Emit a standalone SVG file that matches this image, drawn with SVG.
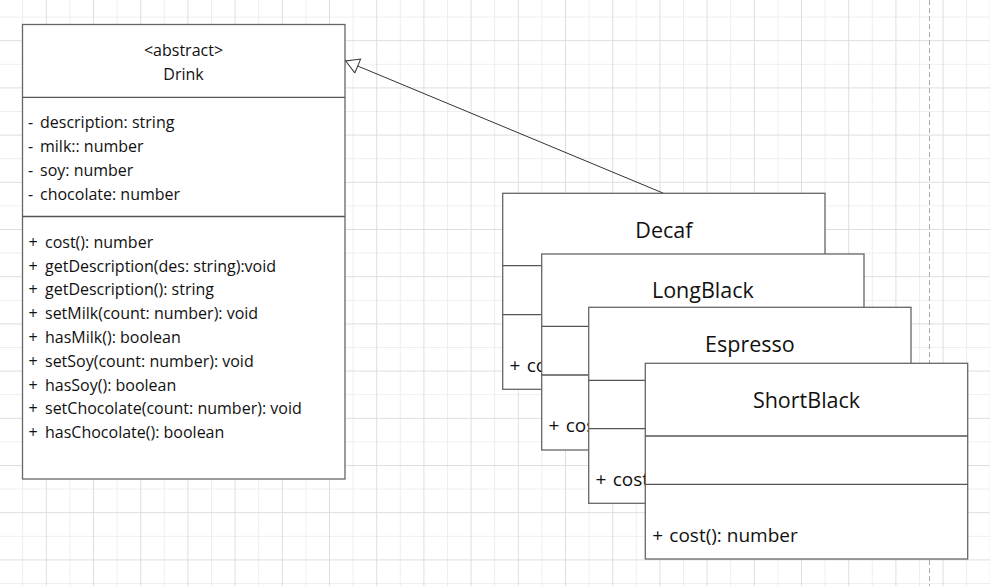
<svg xmlns="http://www.w3.org/2000/svg" width="990" height="586" viewBox="0 0 990 586">
<defs>
<pattern id="grid" patternUnits="userSpaceOnUse" x="45.8" y="40.2" width="47.2" height="47.2">
<rect x="23.6" y="0" width="1" height="47.2" fill="#eeeeee"/>
<rect x="0" y="23.6" width="47.2" height="1" fill="#eeeeee"/>
<rect x="0" y="0" width="1" height="47.2" fill="#dedede"/>
<rect x="0" y="0" width="47.2" height="1" fill="#dedede"/>
</pattern>
<marker id="inherit" markerUnits="userSpaceOnUse" markerWidth="20" markerHeight="20" refX="14" refY="8" orient="auto" viewBox="0 0 20 20">
<path d="M1,0.5 L14,8 L1,15.5 Z" fill="#ffffff" stroke="#333333" stroke-width="1"/>
</marker>
</defs>
<style>
.box{fill:#ffffff;stroke:#666666;stroke-width:1.3}
.div{stroke:#555555;stroke-width:1.3}
.t{font-family:"Open Sans","Noto Sans","DejaVu Sans",sans-serif;fill:#111111}
.hd{font-size:16px;text-anchor:middle}
.m{font-size:16px}
.title{font-size:21.5px;text-anchor:middle}
.sm{font-size:19px}
</style>
<rect x="0" y="0" width="990" height="586" fill="#ffffff"/>
<rect x="0" y="0" width="990" height="586" fill="url(#grid)"/>
<line x1="929.5" y1="0" x2="929.5" y2="586" stroke="#aaaaaa" stroke-width="1" stroke-dasharray="5,3"/>

<g id="Drink">
<rect class="box" x="22.5" y="24.5" width="322.5" height="454.5"/>
<line class="div" x1="22.5" y1="97.3" x2="345" y2="97.3"/>
<line class="div" x1="22.5" y1="216.5" x2="345" y2="216.5"/>
<text class="t hd" x="183.5" y="55.5">&lt;abstract&gt;</text>
<text class="t hd" x="183.5" y="80">Drink</text>
<text class="t m" y="128.3"><tspan x="28">- </tspan><tspan x="40">description: string</tspan></text>
<text class="t m" y="152"><tspan x="28">- </tspan><tspan x="40">milk:: number</tspan></text>
<text class="t m" y="176"><tspan x="28">- </tspan><tspan x="40">soy: number</tspan></text>
<text class="t m" y="200"><tspan x="28">- </tspan><tspan x="40">chocolate: number</tspan></text>
<text class="t m" y="247.7"><tspan x="28.5">+ </tspan><tspan x="45">cost(): number</tspan></text>
<text class="t m" y="271.6"><tspan x="28.5">+ </tspan><tspan x="45">getDescription(des: string):void</tspan></text>
<text class="t m" y="295.4"><tspan x="28.5">+ </tspan><tspan x="45">getDescription(): string</tspan></text>
<text class="t m" y="319.2"><tspan x="28.5">+ </tspan><tspan x="45">setMilk(count: number): void</tspan></text>
<text class="t m" y="343"><tspan x="28.5">+ </tspan><tspan x="45">hasMilk(): boolean</tspan></text>
<text class="t m" y="366.8"><tspan x="28.5">+ </tspan><tspan x="45">setSoy(count: number): void</tspan></text>
<text class="t m" y="390.6"><tspan x="28.5">+ </tspan><tspan x="45">hasSoy(): boolean</tspan></text>
<text class="t m" y="414.4"><tspan x="28.5">+ </tspan><tspan x="45">setChocolate(count: number): void</tspan></text>
<text class="t m" y="438.2"><tspan x="28.5">+ </tspan><tspan x="45">hasChocolate(): boolean</tspan></text>
</g>

<g id="connectors">
<line x1="663.6" y1="193.3" x2="345.7" y2="61" stroke="#333333" stroke-width="1" marker-end="url(#inherit)"/>
</g>

<g id="Decaf">
<rect class="box" x="502.7" y="193.3" width="322.3" height="196"/>
<line class="div" x1="502.7" y1="265.7" x2="825" y2="265.7"/>
<line class="div" x1="502.7" y1="314.7" x2="825" y2="314.7"/>
<text class="t title" x="663.9" y="237.7">Decaf</text>
<text class="t sm" y="371.7"><tspan x="509.5">+ </tspan><tspan x="526.7">cost(): number</tspan></text>
</g>

<g id="LongBlack">
<rect class="box" x="541.7" y="254" width="322.3" height="196"/>
<line class="div" x1="541.7" y1="326.4" x2="864" y2="326.4"/>
<line class="div" x1="541.7" y1="375" x2="864" y2="375"/>
<text class="t title" x="702.9" y="298.4">LongBlack</text>
<text class="t sm" y="432.4"><tspan x="548.5">+ </tspan><tspan x="565.7">cost(): number</tspan></text>
</g>

<g id="Espresso">
<rect class="box" x="588.7" y="307.3" width="322.3" height="196"/>
<line class="div" x1="588.7" y1="380.3" x2="911" y2="380.3"/>
<line class="div" x1="588.7" y1="428.7" x2="911" y2="428.7"/>
<text class="t title" x="749.9" y="351.7">Espresso</text>
<text class="t sm" y="485.7"><tspan x="595.5">+ </tspan><tspan x="612.7">cost(): number</tspan></text>
</g>

<g id="ShortBlack">
<rect class="box" x="645.3" y="363.3" width="322.4" height="195.7"/>
<line class="div" x1="645.3" y1="436" x2="967.7" y2="436"/>
<line class="div" x1="645.3" y1="484.3" x2="967.7" y2="484.3"/>
<text class="t title" x="806.5" y="408.3">ShortBlack</text>
<text class="t sm" y="541.7"><tspan x="652.3">+ </tspan><tspan x="669.3">cost(): number</tspan></text>
</g>
</svg>
